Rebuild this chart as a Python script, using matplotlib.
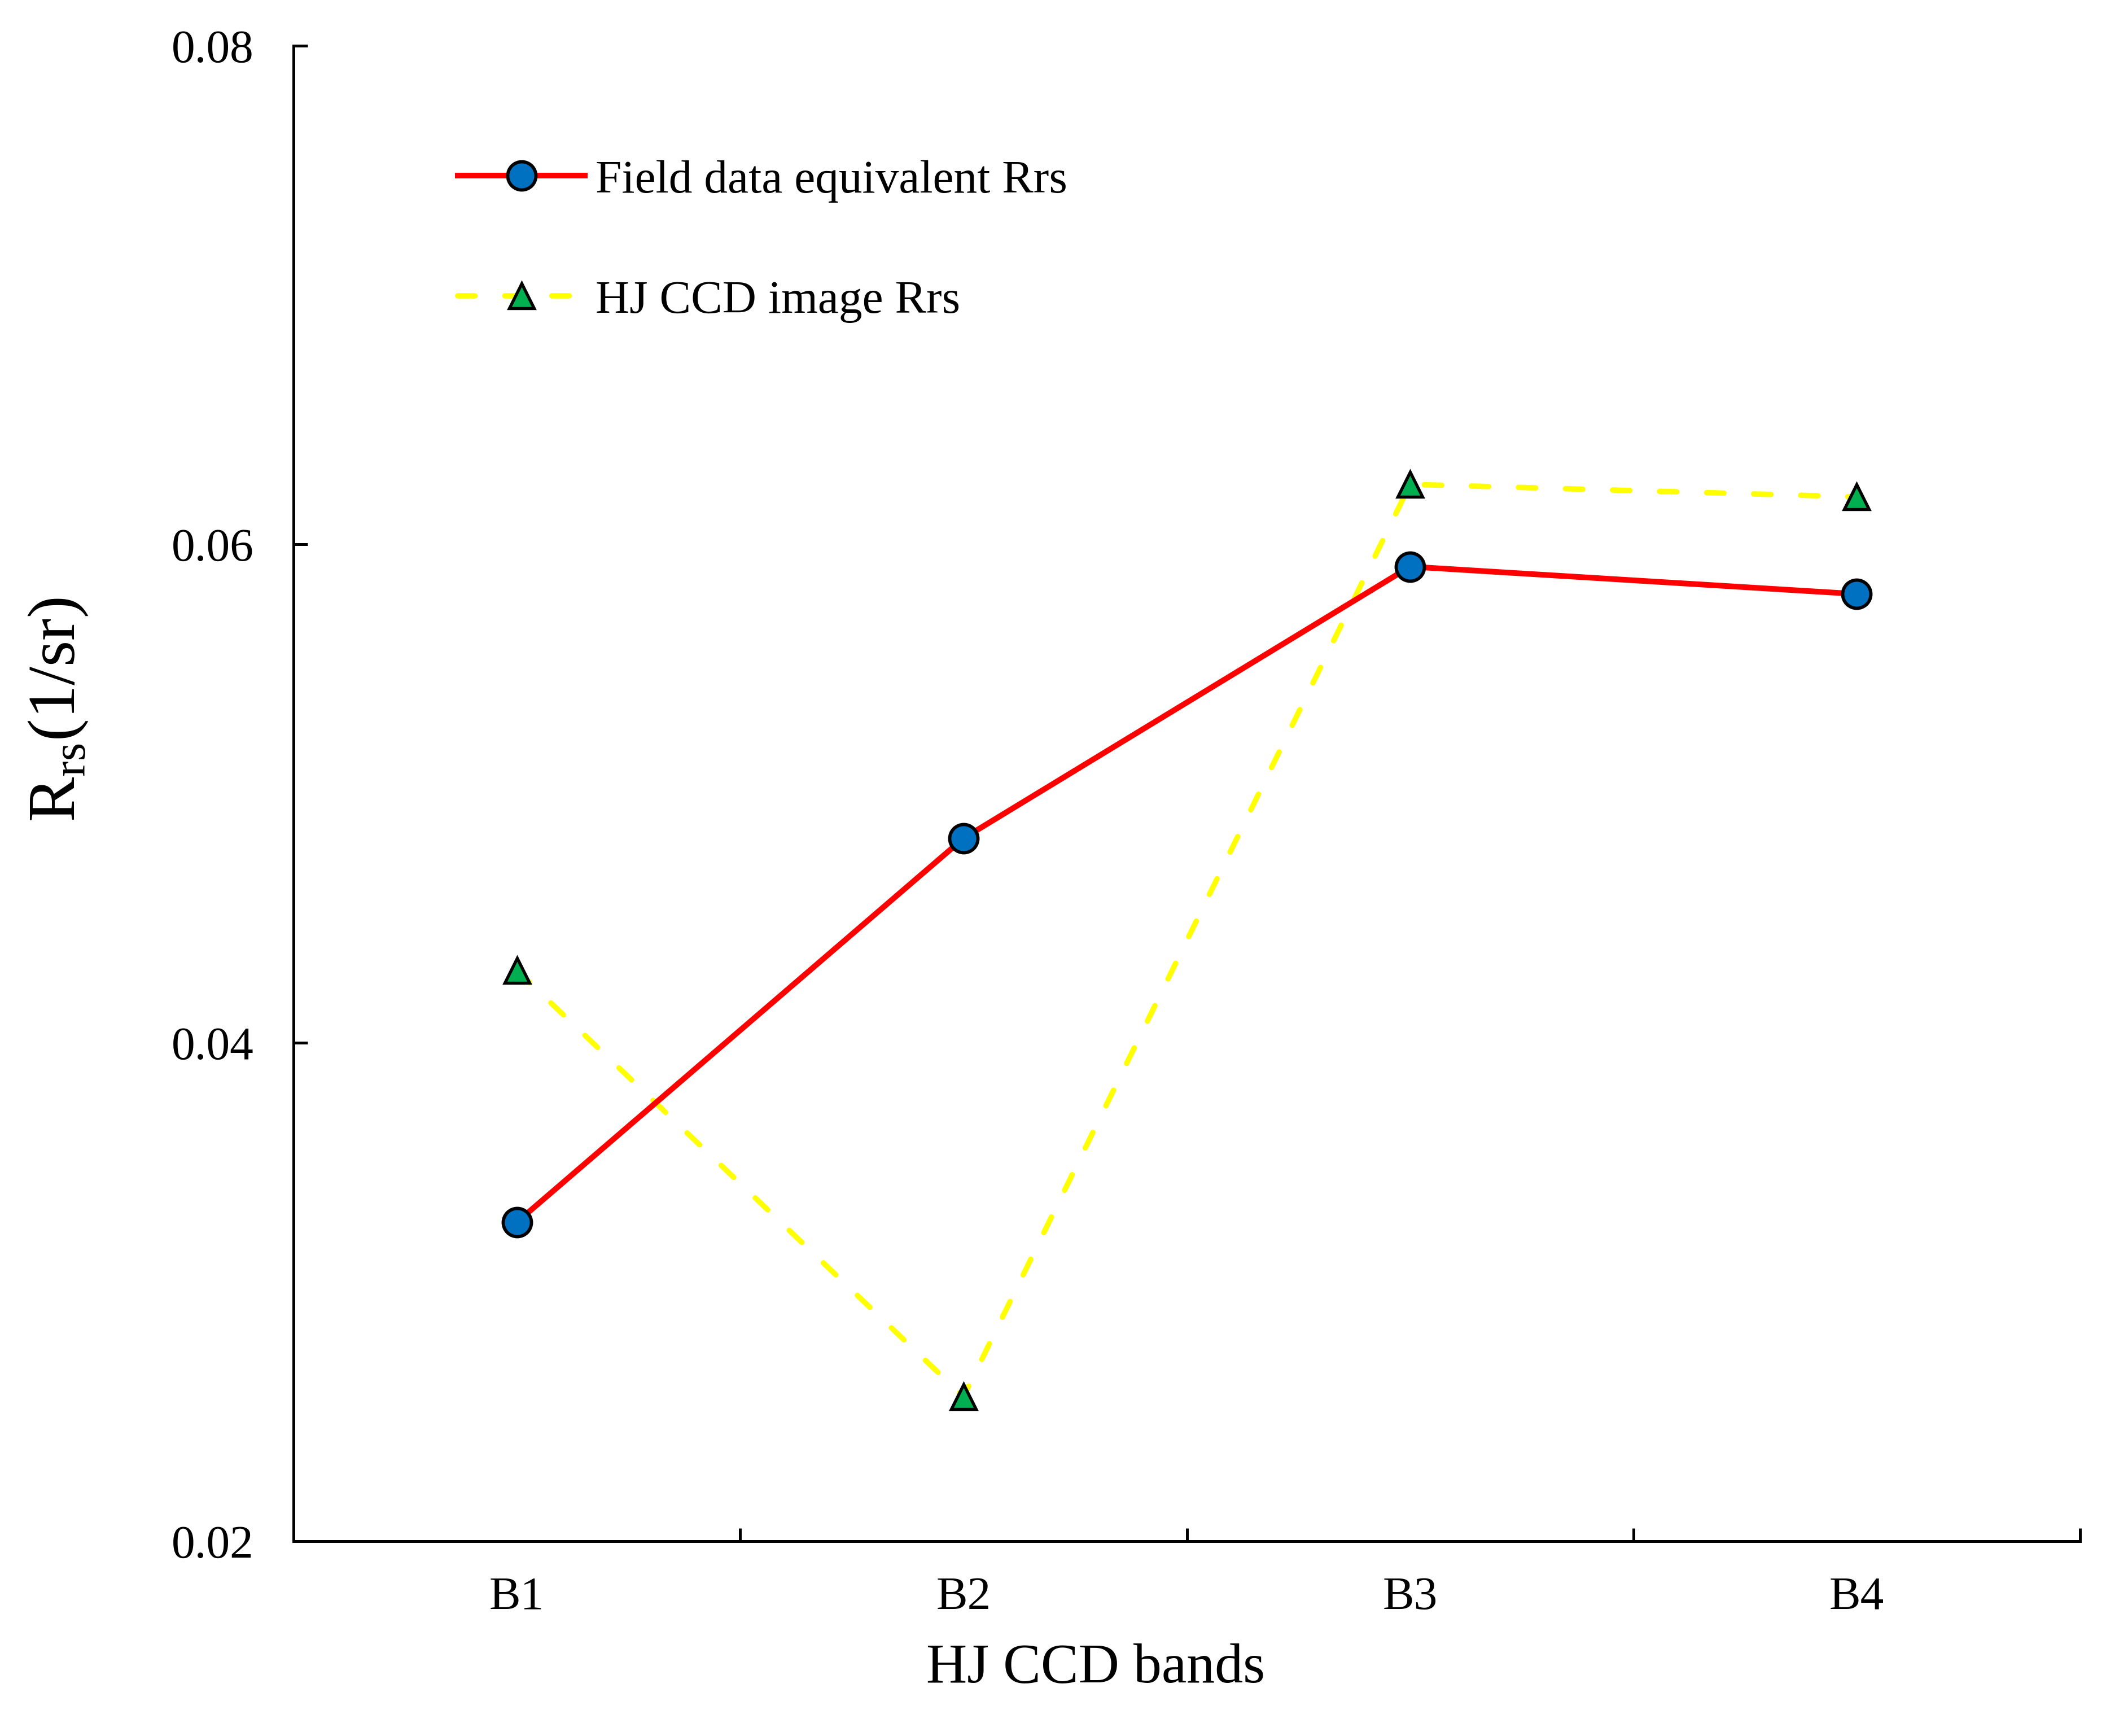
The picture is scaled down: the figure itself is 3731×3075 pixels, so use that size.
import matplotlib
matplotlib.use("Agg")
import matplotlib.pyplot as plt
from matplotlib.ticker import FixedLocator

categories = ["B1", "B2", "B3", "B4"]
field_rrs = [0.0328, 0.0482, 0.0591, 0.0580]
image_rrs = [0.0429, 0.0258, 0.0624, 0.0619]
yticks = [0.02, 0.04, 0.06, 0.08]
ytick_labels = ["0.02", "0.04", "0.06", "0.08"]

plt.rcParams['font.family'] = ['Liberation Serif', 'DejaVu Serif']
plt.rcParams['mathtext.fontset'] = 'custom'
plt.rcParams['mathtext.rm'] = 'Liberation Serif'

fig = plt.figure(figsize=(3731/300, 3075/300), dpi=300)
ax = fig.add_axes([0.1394, 0.1122, 0.9877-0.1394, 0.9737-0.1122])

x = list(range(1, len(categories)+1))
ax.plot(x, field_rrs, color='#FF0000', lw=2.4, marker='o', ms=12,
        markerfacecolor='#0070C0', markeredgecolor='black', markeredgewidth=1.4,
        label='Field data equivalent Rrs', zorder=3)
ax.plot(x, image_rrs, color='#FFFF00', lw=2.3, ls=(0, (3.2, 5.5)), dash_capstyle='round',
        marker='^', ms=10.5,
        markerfacecolor='#00B050', markeredgecolor='black', markeredgewidth=1.3,
        label='HJ CCD image Rrs', zorder=2)

ax.set_xlim(0.5, len(categories)+0.5)
ax.set_ylim(0.02, 0.08)
ax.set_yticks(yticks)
ax.set_yticklabels(ytick_labels)
ax.set_xticks(x)
ax.set_xticklabels(categories)
ax.xaxis.set_minor_locator(FixedLocator([1.5, 2.5, 3.5, 4.5]))

ax.tick_params(axis='x', which='major', length=0, pad=15, labelsize=20)
ax.tick_params(axis='x', which='minor', direction='in', length=5.5, width=1.2)
ax.tick_params(axis='y', which='major', direction='in', length=6, width=1.2, pad=17, labelsize=20)

for s in ['top', 'right']:
    ax.spines[s].set_visible(False)
for s in ['left', 'bottom']:
    ax.spines[s].set_linewidth(1.2)

ax.set_xlabel('HJ CCD bands', fontsize=24)
ax.xaxis.set_label_coords(0.449, -0.068)
ax.set_ylabel(r'R$_{\mathregular{rs}}$(1/sr)', fontsize=28.5)
ax.yaxis.set_label_coords(-0.114, 0.556)

leg = ax.legend(loc='upper left', bbox_to_anchor=(0.092, 0.924), frameon=False,
                borderpad=0, borderaxespad=0,
                fontsize=20, handlelength=2.7, handletextpad=0.23, labelspacing=1.64)

fig.savefig('out.png', dpi=300)
